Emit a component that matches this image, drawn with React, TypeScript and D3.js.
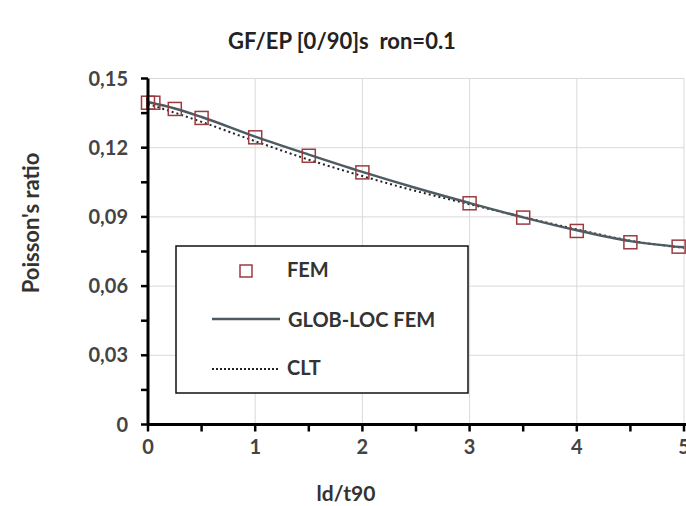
import React from "react";
import * as d3 from "d3";

// FEM points (squares)
const femX = [0, 0.05, 0.25, 0.5, 1, 1.5, 2, 3, 3.5, 4, 4.5, 4.95];
const femY = [0.1395, 0.1395, 0.1368, 0.1329, 0.1245, 0.1165, 0.1093, 0.0959, 0.0897, 0.0839, 0.079, 0.0771];

// GLOB-LOC FEM curve
const globX = [0, 0.25, 0.5, 1, 1.5, 2, 2.5, 3, 3.5, 4, 4.5, 5];
const globY = [0.1398, 0.137, 0.1333, 0.1248, 0.117, 0.1095, 0.1025, 0.096, 0.0898, 0.0842, 0.0795, 0.0768];

// CLT curve
const cltX = [0, 0.5, 1, 1.5, 2, 2.5, 3, 3.5, 4, 4.5, 5];
const cltY = [0.139, 0.1312, 0.1228, 0.1148, 0.1077, 0.1012, 0.0955, 0.0899, 0.0846, 0.0797, 0.0766];

const xTicks = [0, 1, 2, 3, 4, 5];
const yTicks = [0, 0.03, 0.06, 0.09, 0.12, 0.15];
const legendLabels = ["FEM", "GLOB-LOC FEM", "CLT"];

const W = 686;
const H = 506;
const font = "Lato, 'Open Sans', sans-serif";

export default function App() {
  const x = d3.scaleLinear().domain([0, 5]).range([148, 684]);
  const y = d3.scaleLinear().domain([0, 0.15]).range([424.5, 78.5]);

  const line = d3
    .line<[number, number]>()
    .x((d) => x(d[0]))
    .y((d) => y(d[1]))
    .curve(d3.curveMonotoneX);

  const glob = globX.map((v, i) => [v, globY[i]] as [number, number]);
  const clt = cltX.map((v, i) => [v, cltY[i]] as [number, number]);
  const minorX = d3.range(0, 5.01, 0.5);
  const minorY = d3.range(0, 0.1501, 0.015);
  const sq = 13;

  return (
    <svg
      width={W}
      height={H}
      style={{ position: "absolute", left: 0, top: 0, background: "#fff" }}
      fontFamily={font}
    >
      {/* gridlines */}
      {xTicks.slice(1).map((t) => (
        <line key={"gx" + t} x1={x(t)} x2={x(t)} y1={y(0.15)} y2={y(0)} stroke="#d9d9d9" strokeWidth={1} />
      ))}
      {yTicks.slice(1).map((t) => (
        <line key={"gy" + t} x1={x(0)} x2={x(5)} y1={y(t)} y2={y(t)} stroke="#d9d9d9" strokeWidth={1} />
      ))}

      {/* legend box */}
      <rect x={176} y={246} width={292} height={147} fill="#fff" stroke="#111" strokeWidth={1.5} />
      <rect x={240} y={265} width={12} height={12} fill="none" stroke="#9b3b40" strokeWidth={1.5} />
      <text x={287} y={277} fontSize={20} fontWeight={700} fill="#333">{legendLabels[0]}</text>
      <line x1={212} x2={280} y1={319} y2={319} stroke="#4d5b63" strokeWidth={2.5} />
      <text x={288} y={327} fontSize={20} fontWeight={700} fill="#333">{legendLabels[1]}</text>
      <line x1={212} x2={278} y1={369} y2={369} stroke="#222" strokeWidth={2} strokeDasharray="2,2" />
      <text x={287} y={375} fontSize={20} fontWeight={700} fill="#333">{legendLabels[2]}</text>

      {/* series */}
      <path d={line(clt) || ""} fill="none" stroke="#222" strokeWidth={2} strokeDasharray="2,3" />
      <path d={line(glob) || ""} fill="none" stroke="#4d5b63" strokeWidth={2.5} />
      {femX.map((v, i) => (
        <rect
          key={"f" + i}
          x={x(v) - sq / 2}
          y={y(femY[i]) - sq / 2}
          width={sq}
          height={sq}
          fill="none"
          stroke="#9b3b40"
          strokeWidth={1.5}
        />
      ))}

      {/* axes */}
      <line x1={x(0)} x2={x(0)} y1={y(0.15)} y2={y(0)} stroke="#000" strokeWidth={3} />
      <line x1={x(0)} x2={W} y1={y(0)} y2={y(0)} stroke="#000" strokeWidth={3} />
      {minorY.map((t) => (
        <line key={"ty" + t} x1={x(0) - 7} x2={x(0)} y1={y(t)} y2={y(t)} stroke="#000" strokeWidth={2.5} />
      ))}
      {minorX.map((t) => (
        <line key={"tx" + t} x1={x(t)} x2={x(t)} y1={y(0)} y2={y(0) + 7} stroke="#000" strokeWidth={2.5} />
      ))}
      {yTicks.map((t) => (
        <text key={"ly" + t} x={128} y={y(t) + 7} textAnchor="end" fontSize={20} fontWeight={700} fill="#444">
          {t === 0 ? "0" : d3.format(".2f")(t).replace(".", ",")}
        </text>
      ))}
      {xTicks.map((t) => (
        <text key={"lx" + t} x={x(t)} y={454} textAnchor="middle" fontSize={20} fontWeight={700} fill="#444">
          {t}
        </text>
      ))}

      {/* titles */}
      <text x={342} y={49} textAnchor="middle" fontSize={22} fontWeight={700} fill="#222">
        GF/EP [0/90]s{"\u00a0\u00a0"}ron=0.1
      </text>
      <text x={346} y={501} textAnchor="middle" fontSize={21} fontWeight={700} fill="#333">
        ld/t90
      </text>
      <text
        transform={`translate(39, 223) rotate(-90)`}
        textAnchor="middle"
        fontSize={22}
        fontWeight={700}
        fill="#333"
      >
        Poisson's ratio
      </text>
    </svg>
  );
}
